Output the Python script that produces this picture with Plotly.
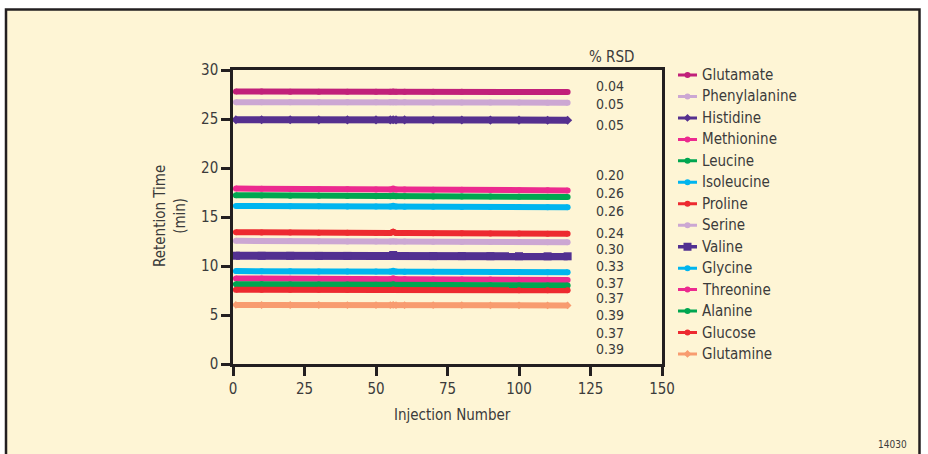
import plotly.graph_objects as go

# Amino acid retention times over repeated injections
injections = [1, 10, 20, 30, 40, 50, 55, 56, 57, 60, 70, 80, 90, 100, 110, 117]

analytes = ["Glutamate", "Phenylalanine", "Histidine", "Methionine", "Leucine",
            "Isoleucine", "Proline", "Serine", "Valine", "Glycine", "Threonine",
            "Alanine", "Glucose", "Glutamine"]

glutamate = [27.80, 27.80, 27.79, 27.79, 27.79, 27.78, 27.78, 27.80, 27.78, 27.78, 27.77, 27.77, 27.76, 27.76, 27.75, 27.75]
phenylalanine = [26.72, 26.72, 26.71, 26.71, 26.71, 26.70, 26.70, 26.72, 26.70, 26.70, 26.69, 26.69, 26.68, 26.68, 26.67, 26.67]
histidine = [24.92, 24.92, 24.92, 24.91, 24.91, 24.91, 24.91, 24.93, 24.91, 24.91, 24.90, 24.90, 24.89, 24.89, 24.88, 24.88]
methionine = [17.90, 17.88, 17.86, 17.84, 17.83, 17.81, 17.81, 17.92, 17.80, 17.80, 17.78, 17.77, 17.75, 17.74, 17.72, 17.71]
leucine = [17.22, 17.20, 17.18, 17.17, 17.15, 17.13, 17.13, 17.20, 17.12, 17.12, 17.10, 17.09, 17.08, 17.06, 17.05, 17.04]
isoleucine = [16.13, 16.11, 16.10, 16.09, 16.07, 16.06, 16.06, 16.14, 16.06, 16.05, 16.04, 16.03, 16.02, 16.01, 16.00, 15.99]
proline = [13.45, 13.43, 13.42, 13.40, 13.39, 13.37, 13.37, 13.50, 13.37, 13.36, 13.35, 13.34, 13.32, 13.31, 13.30, 13.28]
serine = [12.57, 12.55, 12.54, 12.53, 12.51, 12.50, 12.50, 12.53, 12.49, 12.49, 12.47, 12.46, 12.45, 12.44, 12.43, 12.42]
valine = [11.05, 11.04, 11.04, 11.03, 11.03, 11.02, 11.02, 11.12, 11.02, 11.02, 11.01, 11.01, 11.00, 11.00, 10.99, 10.99]
glycine = [9.48, 9.47, 9.46, 9.45, 9.44, 9.43, 9.43, 9.52, 9.43, 9.42, 9.41, 9.40, 9.39, 9.38, 9.37, 9.36]
threonine = [8.73, 8.72, 8.70, 8.69, 8.68, 8.66, 8.66, 8.74, 8.65, 8.65, 8.63, 8.62, 8.61, 8.60, 8.59, 8.58]
alanine = [8.15, 8.14, 8.12, 8.11, 8.10, 8.08, 8.08, 8.13, 8.07, 8.07, 8.05, 8.04, 8.03, 8.02, 8.01, 8.00]
glucose = [7.58, 7.58, 7.57, 7.57, 7.56, 7.56, 7.56, 7.61, 7.55, 7.55, 7.55, 7.54, 7.54, 7.53, 7.53, 7.52]
glutamine = [6.03, 6.02, 6.02, 6.02, 6.01, 6.01, 6.01, 6.04, 6.00, 6.00, 6.00, 6.00, 5.99, 5.99, 5.98, 5.98]

series_values = [glutamate, phenylalanine, histidine, methionine, leucine, isoleucine,
                 proline, serine, valine, glycine, threonine, alanine, glucose, glutamine]

rsd_values = ["0.04", "0.05", "0.05", "0.20", "0.26", "0.26", "0.24",
              "0.30", "0.33", "0.37", "0.37", "0.39", "0.37", "0.39"]

x_ticks = [0, 25, 50, 75, 100, 125, 150]
y_ticks = [0, 5, 10, 15, 20, 25, 30]

# styling
colors = ["#c1207a", "#cca7d3", "#55308f", "#ec2a8f", "#00a651", "#00b5ef", "#ed2a30",
          "#cca7d3", "#523091", "#00b5ef", "#ec2a8f", "#00a651", "#ed2a30", "#f89c70"]
symbols = ["circle", "circle", "diamond", "circle", "circle", "circle", "circle",
           "circle", "square", "circle", "circle", "circle", "circle", "diamond"]
band_widths = [6, 6, 7, 6, 6, 6, 6, 6, 8, 6, 6, 6, 6, 6]

FONT = "DejaVu Sans Condensed, Liberation Sans Narrow, Arial Narrow, sans-serif"
FS = 15
TEXT = "#3b3b3b"
INK = "#231f20"
W, H = 928, 454

def px(xp):
    return xp / W

def py(yp):
    return 1 - yp / H

def label(x, y, text, size=FS, **kw):
    fig.add_annotation(x=x, y=y, xref="paper", yref="paper", text=text, showarrow=False,
                       xanchor=kw.pop("xanchor", "center"), yanchor="middle",
                       font=dict(family=FONT, size=size, color=TEXT), **kw)

fig = go.Figure()

for name, vals, c, sym, lw in zip(analytes, series_values, colors, symbols, band_widths):
    fig.add_trace(go.Scatter(
        x=injections, y=vals, mode="lines+markers", name=name,
        line=dict(color=c, width=lw),
        marker=dict(color=c, symbol=sym, size=lw, line=dict(width=0)),
        xaxis="x", yaxis="y", showlegend=False, hoverinfo="name+x+y"))

# key: one row per analyte, drawn on its own small axes
for k, (name, c, sym) in enumerate(zip(analytes, colors, symbols)):
    fig.add_trace(go.Scatter(
        x=[0, 19], y=[k, k], mode="lines",
        line=dict(color=c, width=3.5 if sym == "square" else 3),
        xaxis="x2", yaxis="y2", showlegend=False, hoverinfo="skip"))
    fig.add_trace(go.Scatter(
        x=[9.5], y=[k], mode="markers",
        marker=dict(color=c, symbol=sym, size=8 if sym == "square" else 6, line=dict(width=0)),
        xaxis="x2", yaxis="y2", showlegend=False, hoverinfo="skip"))
    fig.add_annotation(x=22, y=k, xref="x2", yref="y2", text=name, showarrow=False,
                       xanchor="left", yanchor="middle",
                       font=dict(family=FONT, size=FS, color=TEXT))

# %RSD column
rsd_rows_px = [86, 104.3, 124.5, 175, 192.8, 211, 232.7, 249, 266, 282.8, 298.3, 315, 332.5, 348.5]
label(px(611), py(56.5), "% RSD")
for v, ypix in zip(rsd_values, rsd_rows_px):
    label(px(610), py(ypix), v, size=14)

# axis titles and figure number
label(px(170), py(216), "Retention Time<br>(min)", textangle=-90)
label(px(452), py(415), "Injection Number")
label(px(909), py(444), "14030", size=10, xanchor="right")

# cream panel with dark border
fig.add_shape(type="rect", xref="paper", yref="paper",
              x0=px(6), x1=px(919.5), y0=-0.2, y1=py(9.5),
              line=dict(color=INK, width=2.5), fillcolor="#fef5d5", layer="below")

axis_common = dict(showline=True, linecolor=INK, linewidth=2.5, mirror=True,
                   ticks="outside", ticklen=9, tickwidth=2.5, tickcolor=INK,
                   showgrid=False, zeroline=False, automargin=False,
                   tickfont=dict(family=FONT, size=FS, color=TEXT))

fig.update_layout(
    width=W, height=H,
    margin=dict(l=0, r=0, t=0, b=0),
    paper_bgcolor="white", plot_bgcolor="rgba(0,0,0,0)",
    showlegend=False,
    xaxis=dict(domain=[px(233), px(662)], range=[0, 150], tickvals=x_ticks, **axis_common),
    yaxis=dict(domain=[py(364), py(70)], range=[0, 30], tickvals=y_ticks, **axis_common),
    xaxis2=dict(domain=[px(678), px(798)], range=[0, 120], visible=False, anchor="y2"),
    yaxis2=dict(domain=[py(364.7), py(64.3)], range=[13.5, -0.5], visible=False, anchor="x2"),
)

fig.write_html("out.html")
